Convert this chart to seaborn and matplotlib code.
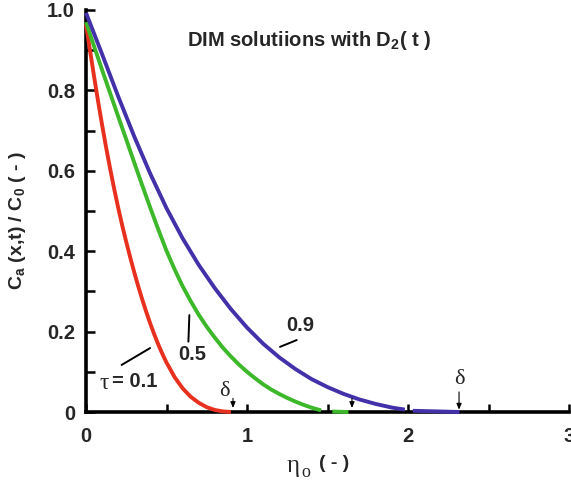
import numpy as np
import pandas as pd
import seaborn as sns
import matplotlib
matplotlib.use("Agg")
import matplotlib.pyplot as plt
from matplotlib.ticker import FixedLocator, FixedFormatter, MultipleLocator

# Concentration profiles C_a(x,t)/C_0 versus similarity variable eta_o
eta_01 = [0.000, 0.025, 0.050, 0.075, 0.100, 0.125, 0.150, 0.175, 0.200,
          0.225, 0.250, 0.275, 0.300, 0.325, 0.350, 0.375, 0.400, 0.425,
          0.450, 0.475, 0.500, 0.550, 0.600, 0.650, 0.700, 0.750, 0.800,
          0.850, 0.900]
c_01 = [0.965, 0.899, 0.835, 0.773, 0.714, 0.658, 0.605, 0.555, 0.508,
        0.464, 0.423, 0.384, 0.347, 0.312, 0.279, 0.248, 0.219, 0.192,
        0.167, 0.144, 0.123, 0.087, 0.059, 0.038, 0.023, 0.012, 0.005,
        0.0015, 0.0]

eta_05 = [0.00, 0.05, 0.10, 0.15, 0.20, 0.25, 0.30, 0.35, 0.40, 0.45, 0.50,
          0.55, 0.60, 0.65, 0.70, 0.75, 0.80, 0.85, 0.90, 0.95, 1.00, 1.05,
          1.10, 1.15, 1.20, 1.25, 1.30, 1.35, 1.40, 1.46]
c_05 = [0.970, 0.910, 0.851, 0.793, 0.735, 0.678, 0.620, 0.563, 0.507,
        0.453, 0.401, 0.355, 0.313, 0.276, 0.242, 0.212, 0.185, 0.160,
        0.138, 0.118, 0.100, 0.084, 0.069, 0.056, 0.045, 0.035, 0.026,
        0.018, 0.011, 0.004]
eta_05_tail = [1.53, 1.63]
c_05_tail = [0.001, 0.0]

eta_09 = [0.0, 0.1, 0.2, 0.3, 0.4, 0.5, 0.6, 0.7, 0.8, 0.9, 1.0, 1.1, 1.2,
          1.3, 1.4, 1.5, 1.6, 1.7, 1.8, 1.9, 1.98]
c_09 = [0.993, 0.890, 0.785, 0.685, 0.592, 0.507, 0.432, 0.366, 0.308,
        0.256, 0.210, 0.170, 0.136, 0.107, 0.082, 0.062, 0.045, 0.031,
        0.020, 0.011, 0.006]
eta_09_tail = [2.03, 2.32]
c_09_tail = [0.003, 0.0]

x_ticks = [0, 1, 2, 3]
x_tick_labels = ["0", "1", "2", "3"]
y_ticks = [0.0, 0.2, 0.4, 0.6, 0.8, 1.0]
y_tick_labels = ["0", "0.2", "0.4", "0.6", "0.8", "1.0"]

colors = {"0.1": "#e8301e", "0.5": "#3cb82a", "0.9": "#4231a8"}

segments = [
    ("0.1", "0.1a", eta_01, c_01),
    ("0.5", "0.5a", eta_05, c_05),
    ("0.5", "0.5b", eta_05_tail, c_05_tail),
    ("0.9", "0.9a", eta_09, c_09),
    ("0.9", "0.9b", eta_09_tail, c_09_tail),
]
rows = []
for tau, seg, xs, ys in segments:
    for xv, yv in zip(xs, ys):
        rows.append({"eta": xv, "C": yv, "tau": tau, "segment": seg})
df = pd.DataFrame(rows)

sns.set_style("ticks")
plt.rcParams["font.family"] = ["Liberation Sans", "DejaVu Sans"]
plt.rcParams["mathtext.fontset"] = "custom"
plt.rcParams["mathtext.bf"] = "Liberation Sans:bold"
plt.rcParams["mathtext.rm"] = "Liberation Sans:bold"
plt.rcParams["mathtext.default"] = "bf"

fig = plt.figure(figsize=(5.71, 4.80), dpi=100)
ax = fig.add_axes([86 / 571, 68 / 480, 483 / 571, 402 / 480])

sns.lineplot(data=df, x="eta", y="C", hue="tau", units="segment",
             estimator=None, sort=False, palette=colors, linewidth=2.8,
             legend=False, ax=ax)
for ln in ax.lines:
    ln.set_clip_on(False)
    ln.set_zorder(3)
    ln.set_solid_capstyle("butt")
    ln.set_solid_joinstyle("round")

ax.set_xlim(0, 3)
ax.set_ylim(0, 1.0)
sns.despine(ax=ax)
for side in ("left", "bottom"):
    ax.spines[side].set_linewidth(2.6)
    ax.spines[side].set_color("black")

ax.xaxis.set_major_locator(FixedLocator(x_ticks))
ax.xaxis.set_major_formatter(FixedFormatter(x_tick_labels))
ax.xaxis.set_minor_locator(MultipleLocator(0.5))
ax.yaxis.set_major_locator(FixedLocator(y_ticks))
ax.yaxis.set_major_formatter(FixedFormatter(y_tick_labels))
ax.yaxis.set_minor_locator(MultipleLocator(0.1))

ax.tick_params(axis="both", which="both", direction="in", width=1.8,
               color="black")
ax.tick_params(axis="x", which="both", length=5.5, pad=11)
ax.tick_params(axis="y", which="both", length=6.5, pad=8)
for lab in ax.get_xticklabels() + ax.get_yticklabels():
    lab.set_fontweight("bold")
    lab.set_fontsize(14.5)
ax.set_xlabel("")
ax.set_ylabel("")

# Axis titles
fig.text(18 / 571, 1 - 221 / 480, r"C$_{a}$ (x,t) / C$_{0}$ ( - )",
         rotation=90, ha="center", va="center", fontsize=14,
         fontweight="bold")
serif = ["Liberation Serif", "DejaVu Serif"]
ax.text(1.286, -0.134, "η", family=serif, fontsize=18, ha="center",
        va="center", clip_on=False)
ax.text(1.368, -0.150, "o", family=serif, fontsize=13, ha="center",
        va="center", clip_on=False)
ax.text(1.540, -0.129, "( - )", fontsize=14, fontweight="bold",
        ha="center", va="center", clip_on=False)

# Heading inside the plot
ax.text(1.385, 0.925, r"DIM solutiions with D$_{2}$( t )", fontsize=14.5,
        fontweight="bold", ha="center", va="center")

# Curve labels with leader lines
ax.text(0.112, 0.070, "τ", family=serif, fontsize=17, ha="center",
        va="center")
ax.text(0.162, 0.075, "= 0.1", fontsize=14.5, fontweight="bold",
        ha="left", va="center")
ax.plot([0.221, 0.398], [0.117, 0.159], color="black", lw=1.4)
ax.text(0.658, 0.142, "0.5", fontsize=14.5, fontweight="bold",
        ha="center", va="center")
ax.plot([0.642, 0.636], [0.241, 0.175], color="black", lw=1.4)
ax.text(1.329, 0.214, "0.9", fontsize=14.5, fontweight="bold",
        ha="center", va="center")
ax.plot([1.205, 1.309], [0.162, 0.179], color="black", lw=1.4)

# Penetration depth markers
ax.text(0.857, 0.052, "δ", family=serif, fontsize=16, ha="center",
        va="center")
arrow = dict(arrowstyle="-|>,head_length=0.35,head_width=0.15", lw=0.8,
             color="black", shrinkA=0, shrinkB=0)
ax.annotate("", xy=(0.913, 0.010), xytext=(0.913, 0.034), arrowprops=arrow)
ax.annotate("", xy=(1.652, 0.010), xytext=(1.652, 0.034), arrowprops=arrow)
ax.text(2.317, 0.082, "δ", family=serif, fontsize=16, ha="center",
        va="center")
ax.annotate("", xy=(2.317, 0.006), xytext=(2.317, 0.050), arrowprops=arrow)

fig.savefig("out.png", dpi=100)
